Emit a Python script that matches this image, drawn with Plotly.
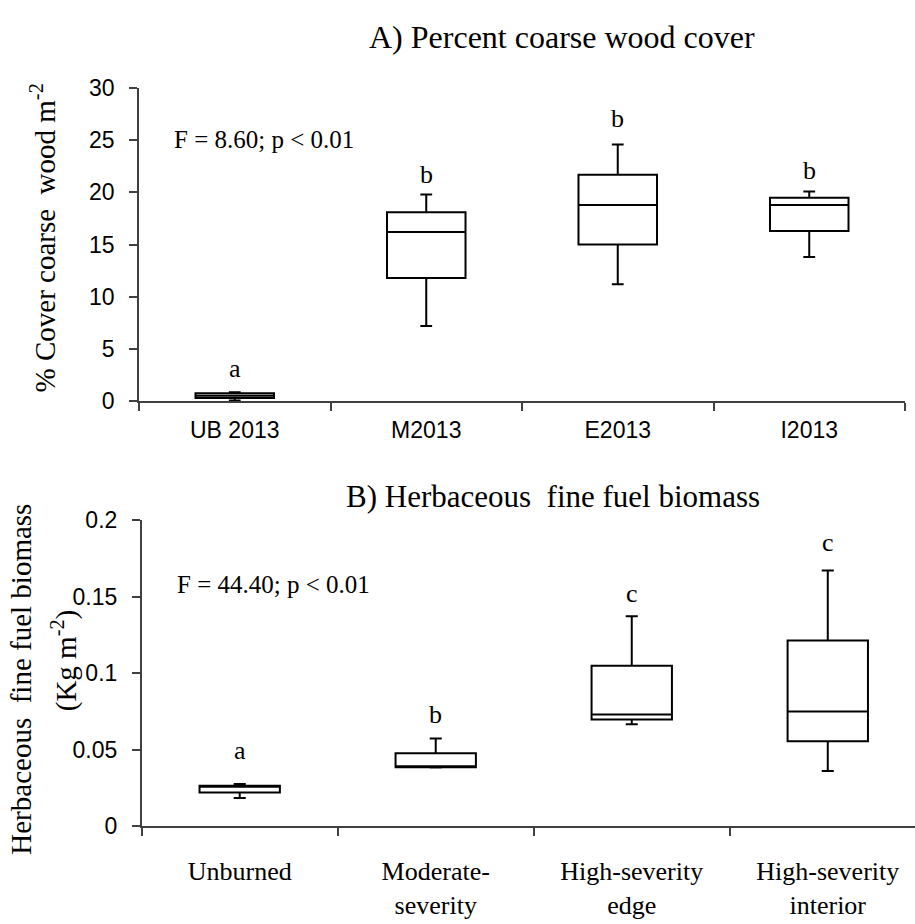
import plotly.graph_objects as go

# ---- Data: Panel A (percent coarse wood cover) ----
cats_a = ["UB 2013", "M2013", "E2013", "I2013"]
a_low = [0.05, 7.2, 11.2, 13.8]
a_q1 = [0.3, 11.8, 15.0, 16.3]
a_med = [0.5, 16.2, 18.8, 18.8]
a_q3 = [0.75, 18.1, 21.7, 19.5]
a_high = [0.85, 19.8, 24.6, 20.1]
a_letters = ["a", "b", "b", "b"]
a_letter_y = [3.1, 21.7, 27.1, 22.1]

# ---- Data: Panel B (herbaceous fine fuel biomass) ----
cats_b = ["Unburned", "Moderate-<br>severity", "High-severity<br>edge", "High-severity<br>interior"]
b_low = [0.0184, 0.0383, 0.0665, 0.036]
b_q1 = [0.022, 0.0385, 0.0697, 0.0555]
b_med = [0.0258, 0.0392, 0.073, 0.0749]
b_q3 = [0.0264, 0.0476, 0.1048, 0.1213]
b_high = [0.0276, 0.0572, 0.1371, 0.167]
b_letters = ["a", "b", "c", "c"]
b_letter_y = [0.0493, 0.073, 0.152, 0.185]

SERIF = "Liberation Serif"
SANS = "Liberation Sans"
W, H = 915, 924

fig = go.Figure()

box_style = dict(
    fillcolor="white",
    line=dict(color="black", width=2),
    whiskerwidth=0.15,
    width=0.41,
    boxpoints=False,
    showlegend=False,
    hoverinfo="skip",
)

fig.add_trace(go.Box(x=cats_a, q1=a_q1, median=a_med, q3=a_q3,
                     lowerfence=a_low, upperfence=a_high,
                     xaxis="x", yaxis="y", **box_style))
fig.add_trace(go.Box(x=cats_b, q1=b_q1, median=b_med, q3=b_q3,
                     lowerfence=b_low, upperfence=b_high,
                     xaxis="x2", yaxis="y2", **box_style))

axis_line = dict(showline=True, linecolor="#404040", linewidth=1.5,
                 showgrid=False, zeroline=False, ticks="outside",
                 ticklen=8, tickcolor="#404040", tickwidth=1.5)


def px_x(p):
    return p / W


def px_y(p):
    return 1 - p / H


fig.update_layout(
    width=W, height=H,
    margin=dict(l=0, r=0, t=0, b=0),
    paper_bgcolor="white", plot_bgcolor="white",
    xaxis=dict(domain=[px_x(139), px_x(905)], anchor="y",
               type="category", categoryorder="array", categoryarray=cats_a,
               range=[-0.5, 3.5], tickson="boundaries",
               tickfont=dict(family=SANS, size=23, color="black"),
               ticklabelstandoff=8,
               **axis_line),
    yaxis=dict(domain=[px_y(399.3), px_y(77.3)], anchor="x",
               range=[0, 30], dtick=5, tick0=0,
               tickfont=dict(family=SANS, size=23, color="black"),
               ticklabelstandoff=10,
               **axis_line),
    xaxis2=dict(domain=[px_x(141.7), 1.0], anchor="y2",
                type="category", categoryorder="array", categoryarray=cats_b,
                range=[-0.5, 3.445], tickson="boundaries",
                tickfont=dict(family=SERIF, size=26, color="black"),
                ticklabelstandoff=21,
                **axis_line),
    yaxis2=dict(domain=[px_y(836.7), px_y(521.7)], anchor="x2",
                range=[0, 0.2], dtick=0.05, tick0=0,
                tickfont=dict(family=SANS, size=23, color="black"),
                ticklabelstandoff=10,
                **axis_line),
)

annotations = []
# letters
for c, t, y in zip(cats_a, a_letters, a_letter_y):
    annotations.append(dict(x=c, y=y, xref="x", yref="y", text=t, showarrow=False,
                            xanchor="center", yanchor="middle",
                            font=dict(family=SERIF, size=26, color="black")))
for c, t, y in zip(cats_b, b_letters, b_letter_y):
    annotations.append(dict(x=c, y=y, xref="x2", yref="y2", text=t, showarrow=False,
                            xanchor="center", yanchor="middle",
                            font=dict(family=SERIF, size=26, color="black")))
# F statistics
annotations.append(dict(x=-0.33, y=25.1, xref="x", yref="y", xanchor="left",
                        yanchor="middle",
                        text="F = 8.60; p < 0.01", showarrow=False,
                        font=dict(family=SERIF, size=25, color="black")))
annotations.append(dict(x=-0.33, y=0.158, xref="x2", yref="y2", xanchor="left",
                        yanchor="middle",
                        text="F = 44.40; p < 0.01", showarrow=False,
                        font=dict(family=SERIF, size=25, color="black")))
# panel titles
annotations.append(dict(x=px_x(562), y=px_y(25), xref="paper", yref="paper",
                        xanchor="center", yanchor="middle",
                        text="A) Percent coarse wood cover", showarrow=False,
                        font=dict(family=SERIF, size=32, color="black")))
annotations.append(dict(x=px_x(553), y=px_y(497), xref="paper", yref="paper",
                        xanchor="center", yanchor="middle",
                        text="B) Herbaceous  fine fuel biomass", showarrow=False,
                        font=dict(family=SERIF, size=31, color="black")))
# y-axis titles
annotations.append(dict(x=px_x(43), y=px_y(232), xref="paper", yref="paper",
                        xanchor="center", yanchor="middle",
                        text="% Cover coarse  wood m<sup>-2</sup>", textangle=-90,
                        showarrow=False,
                        font=dict(family=SERIF, size=29, color="black")))
annotations.append(dict(x=px_x(21), y=px_y(686), xref="paper", yref="paper",
                        xanchor="center", yanchor="middle",
                        text="Herbaceous  fine fuel biomass",
                        textangle=-90, showarrow=False,
                        font=dict(family=SERIF, size=29, color="black")))
annotations.append(dict(x=px_x(64), y=px_y(666), xref="paper", yref="paper",
                        xanchor="center", yanchor="middle",
                        text="(Kg m<sup>-2</sup>)",
                        textangle=-90, showarrow=False,
                        font=dict(family=SERIF, size=29, color="black")))

fig.update_layout(annotations=annotations)

fig.write_html("out.html")
